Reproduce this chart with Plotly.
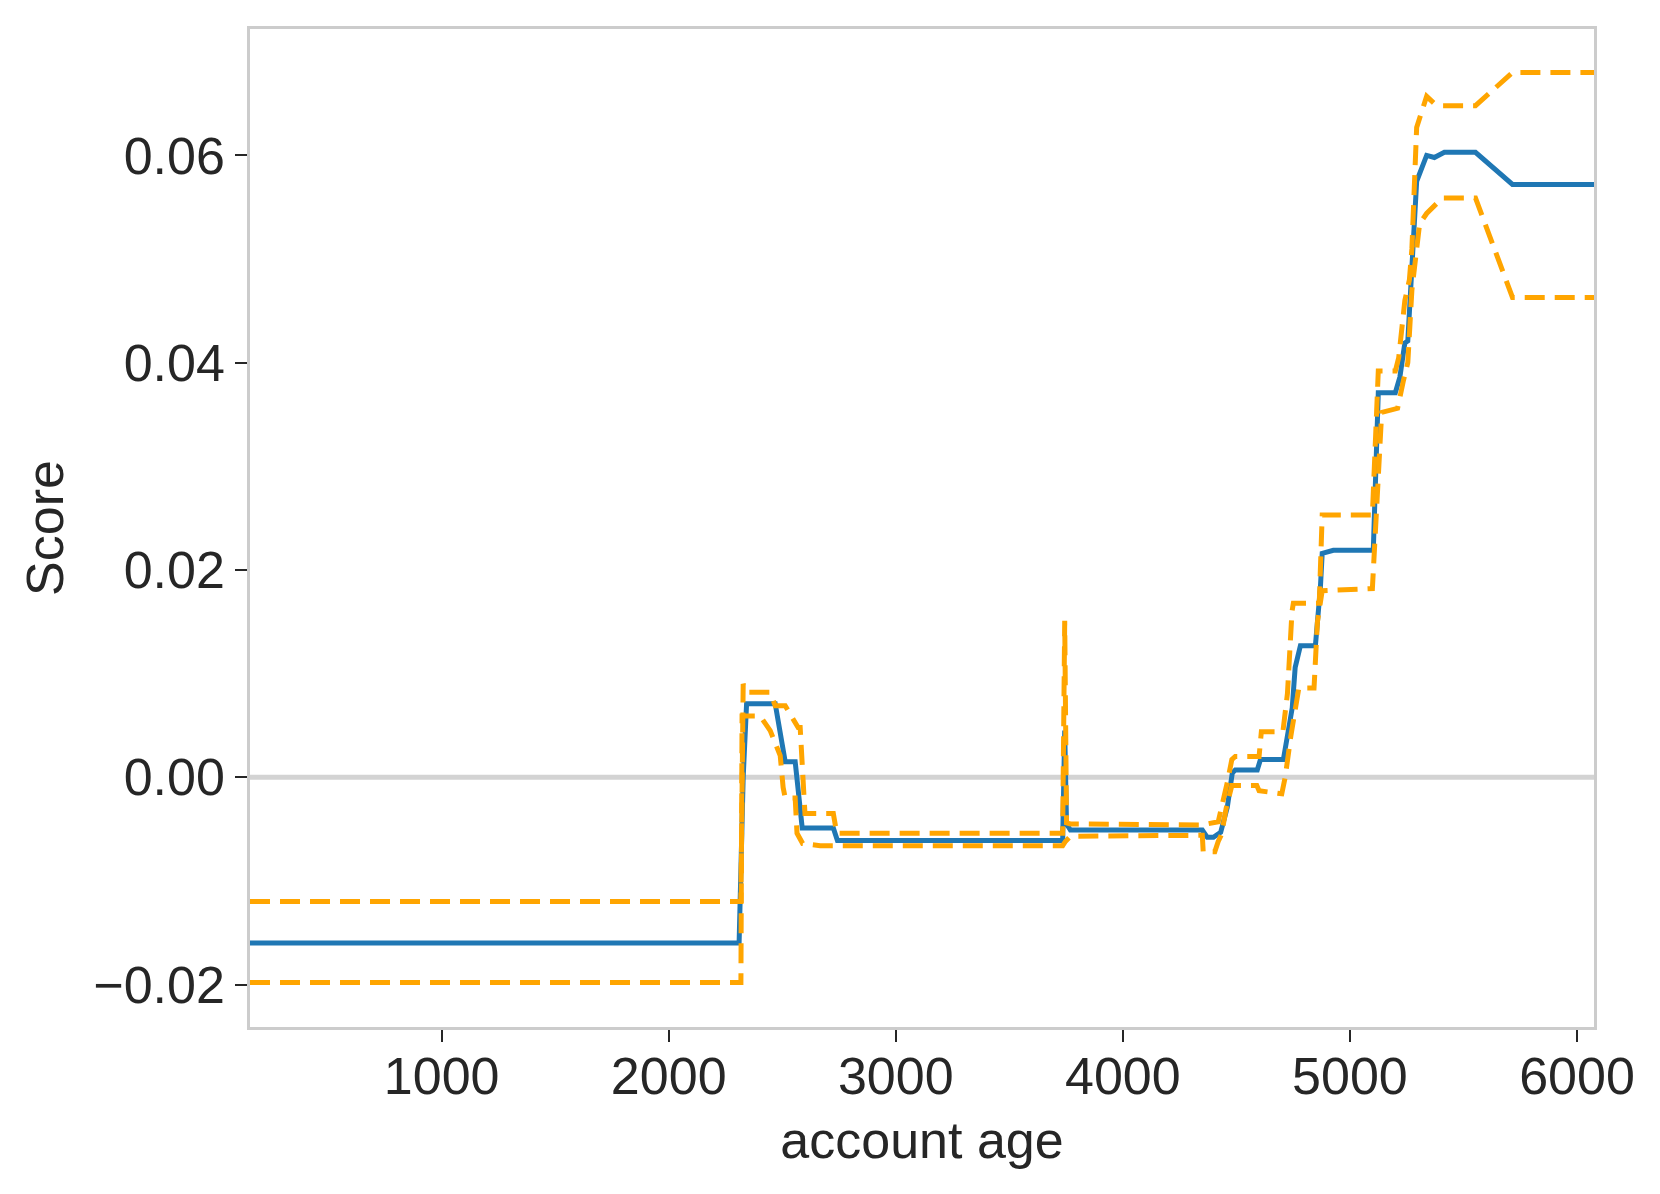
import plotly.graph_objects as go

# mean score (blue)
age_mean = [156, 2310, 2328, 2343, 2469, 2513, 2557, 2588, 2725, 2743, 3735, 3744, 3752,
            3769, 4350, 4372, 4399, 4431, 4460, 4482, 4495, 4592, 4606, 4707, 4746,
            4759, 4782, 4848, 4870, 4878, 4927, 5103, 5125, 5200, 5220, 5242, 5255,
            5273, 5294, 5338, 5372, 5416, 5553, 5716, 6075]
score_mean = [-0.0160, -0.0160, 0.0000, 0.0071, 0.0071, 0.0015, 0.0015, -0.0049, -0.0049,
              -0.0061, -0.0061, 0.0045, -0.0045, -0.0051, -0.0051, -0.0058, -0.0058,
              -0.0053, -0.0029, 0.0004, 0.0007, 0.0007, 0.0017, 0.0017, 0.0067, 0.0106,
              0.0127, 0.0127, 0.0183, 0.0216, 0.0219, 0.0219, 0.0371, 0.0371, 0.0386,
              0.0419, 0.0421, 0.0486, 0.0575, 0.0600, 0.0598, 0.0603, 0.0603, 0.0572,
              0.0572]

# upper bound (orange dashed)
age_upper = [156, 2318, 2328, 2345, 2368, 2447, 2469, 2513, 2570, 2579, 2600, 2659, 2725,
             2740, 3735, 3744, 3752, 3769, 4350, 4420, 4435, 4460, 4480, 4495, 4600,
             4610, 4705, 4725, 4745, 4751, 4865, 4878, 5099, 5125, 5200, 5215, 5242,
             5262, 5273, 5294, 5338, 5372, 5407, 5553, 5716, 6075]
score_upper = [-0.0120, -0.0120, 0.0090, 0.0082, 0.0082, 0.0082, 0.0069, 0.0069, 0.0048,
               0.0048, -0.0035, -0.0035, -0.0035, -0.0054, -0.0054, 0.0151, -0.0044,
               -0.0045, -0.0046, -0.0043, -0.0030, -0.0005, 0.0017, 0.0020, 0.0020,
               0.0044, 0.0044, 0.0081, 0.0160, 0.0168, 0.0168, 0.0253, 0.0253, 0.0392,
               0.0392, 0.0405, 0.0460, 0.0480, 0.0510, 0.0627, 0.0657, 0.0650, 0.0648,
               0.0648, 0.0680, 0.0680]

# lower bound (orange dashed)
age_lower = [156, 2318, 2323, 2403, 2447, 2491, 2504, 2513, 2557, 2565, 2590, 2667, 3735,
             3747, 3769, 4350, 4354, 4405, 4420, 4435, 4455, 4480, 4590, 4600, 4700,
             4715, 4740, 4775, 4842, 4857, 4878, 5099, 5140, 5210, 5236, 5255, 5273,
             5307, 5338, 5372, 5407, 5553, 5716, 6075]
score_lower = [-0.0198, -0.0198, 0.0059, 0.0059, 0.0045, 0.0021, -0.0010, -0.0020, -0.0020,
               -0.0054, -0.0064, -0.0066, -0.0066, -0.0062, -0.0057, -0.0056, -0.0072,
               -0.0072, -0.0062, -0.0055, -0.0030, -0.0008, -0.0008, -0.0013, -0.0016,
               0.0000, 0.0040, 0.0086, 0.0086, 0.0150, 0.0180, 0.0182, 0.0352, 0.0356,
               0.0383, 0.0400, 0.0470, 0.0534, 0.0544, 0.0552, 0.0559, 0.0559, 0.0463,
               0.0463]

x_ticks = [1000, 2000, 3000, 4000, 5000, 6000]
y_ticks = [-0.02, 0.0, 0.02, 0.04, 0.06]
y_tick_text = ["\u22120.02", "0.00", "0.02", "0.04", "0.06"]

fig = go.Figure()
fig.add_hline(y=0, line_color="#d3d3d3", line_width=5, layer="below")
fig.add_trace(go.Scatter(x=age_mean, y=score_mean, mode="lines",
                         line=dict(color="#1f77b4", width=5)))
fig.add_trace(go.Scatter(x=age_upper, y=score_upper, mode="lines",
                         line=dict(color="orange", width=5, dash="20px,10px")))
fig.add_trace(go.Scatter(x=age_lower, y=score_lower, mode="lines",
                         line=dict(color="orange", width=5, dash="20px,10px")))

font = dict(family="Liberation Sans, Arial, sans-serif", size=52, color="#262626")
fig.update_layout(
    width=1660, height=1194,
    margin=dict(l=250, r=66, t=29, b=167),
    plot_bgcolor="white", paper_bgcolor="white",
    showlegend=False, font=font,
)
fig.update_xaxes(
    range=[156, 6075], tickvals=x_ticks, showgrid=False, zeroline=False,
    showline=True, mirror=True, linecolor="#cccccc", linewidth=2.5,
    ticks="outside", ticklen=12, tickwidth=2, tickcolor="#262626",
    ticklabelstandoff=-10,
    title=dict(text="account age", font=font, standoff=18),
)
fig.update_yaxes(
    range=[-0.0241, 0.0722], tickvals=y_ticks, ticktext=y_tick_text,
    showgrid=False, zeroline=False,
    showline=True, mirror=True, linecolor="#cccccc", linewidth=2.5,
    ticks="outside", ticklen=12, tickwidth=2, tickcolor="#262626",
    title=dict(text="Score", font=font, standoff=14),
)

# drop the default page margin so the plot sits at the window origin
fig.write_html("out.html", config={"displayModeBar": False},
               post_script="document.body.style.margin='0px';")
